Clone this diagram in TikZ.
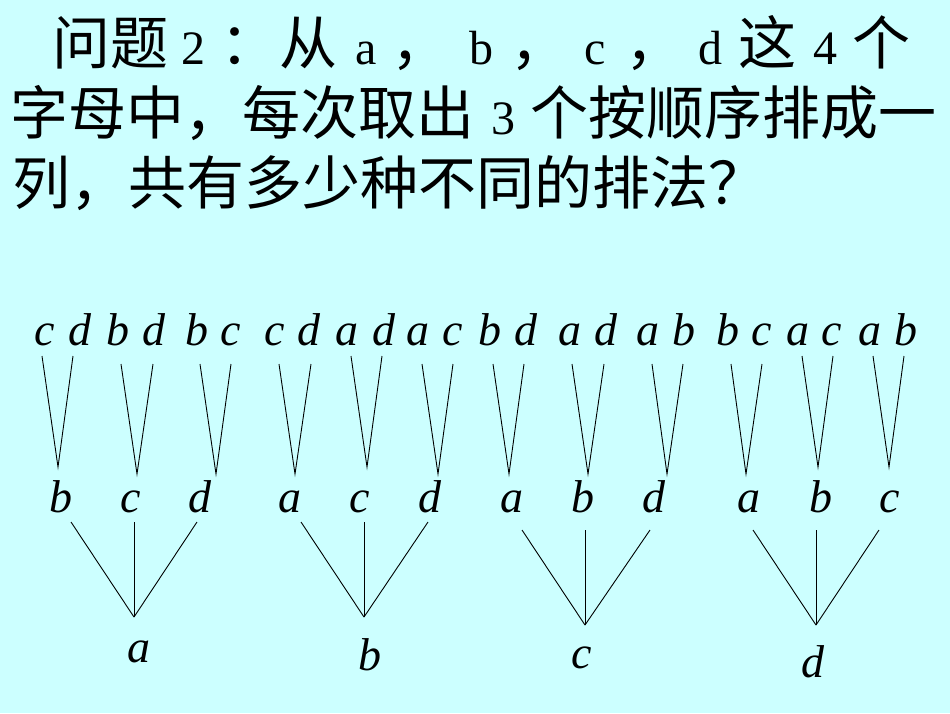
\documentclass[tikz,border=0pt]{standalone}
\usepackage{fontspec}
\setmainfont{Liberation Serif}
\newfontfamily\cjk{Noto Sans CJK SC}
\newfontfamily\lat{Liberation Serif}
\newcommand\ltn[1]{{\fontsize{48pt}{50pt}\selectfont\lat #1}}
\definecolor{bgcyan}{RGB}{204,255,255}
\tikzset{
  titleline/.style={anchor=base west, inner sep=0pt, font=\fontsize{58pt}{60pt}\selectfont\cjk},
  letter/.style={anchor=base, inner sep=0pt, font=\fontsize{46pt}{48pt}\selectfont\itshape},
  edge/.style={draw=black, line width=0.9pt}
}
\begin{document}
\begin{tikzpicture}[x=1pt,y=-1pt]
\fill[bgcyan] (0,0) rectangle (950,713);
\useasboundingbox (0,0) rectangle (950,713);
% title
\node[titleline] (l1) at (52,64) {问题\hspace{13pt}\ltn{2}\hspace{15pt}：\hspace{1pt}从\hspace{18pt}\ltn{a}\hspace{15.4pt}，\hspace{20pt}\ltn{b}\hspace{17pt}，\hspace{16pt}\ltn{c}\hspace{19.4pt}，\hspace{15pt}\ltn{d}\hspace{16pt}这\hspace{17pt}\ltn{4}\hspace{15pt}个};
\node[titleline] (l2) at (10,134) {字母中，每次取出\hspace{17pt}\ltn{3}\hspace{15pt}个按顺序排成一};
\node[titleline] (l3) at (12,204) {列，共有多少种不同的排法？};
% top row
\node[letter] (t1) at (45,345) {c};
\node[letter] (t2) at (80,345) {d};
\node[letter] (t3) at (118,345) {b};
\node[letter] (t4) at (154,345) {d};
\node[letter] (t5) at (197,345) {b};
\node[letter] (t6) at (231,345) {c};
\node[letter] (t7) at (275,345) {c};
\node[letter] (t8) at (309,345) {d};
\node[letter] (t9) at (347,345) {a};
\node[letter] (t10) at (384,345) {d};
\node[letter] (t11) at (418,345) {a};
\node[letter] (t12) at (453,345) {c};
\node[letter] (t13) at (490,345) {b};
\node[letter] (t14) at (526,345) {d};
\node[letter] (t15) at (570,345) {a};
\node[letter] (t16) at (606,345) {d};
\node[letter] (t17) at (648,345) {a};
\node[letter] (t18) at (684,345) {b};
\node[letter] (t19) at (728,345) {b};
\node[letter] (t20) at (762,345) {c};
\node[letter] (t21) at (798,345) {a};
\node[letter] (t22) at (832,345) {c};
\node[letter] (t23) at (870,345) {a};
\node[letter] (t24) at (906,345) {b};
% middle row
\node[letter] (m1) at (61,512) {b};
\node[letter] (m2) at (131,512) {c};
\node[letter] (m3) at (200,512) {d};
\node[letter] (m4) at (290,512) {a};
\node[letter] (m5) at (360,512) {c};
\node[letter] (m6) at (430,512) {d};
\node[letter] (m7) at (512,512) {a};
\node[letter] (m8) at (583,512) {b};
\node[letter] (m9) at (654,512) {d};
\node[letter] (m10) at (749,512) {a};
\node[letter] (m11) at (821,512) {b};
\node[letter] (m12) at (890,512) {c};
% bottom row
\node[letter] (r1) at (139,662) {a};
\node[letter] (r2) at (370,670) {b};
\node[letter] (r3) at (582,668) {c};
\node[letter] (r4) at (813,677) {d};
% V vertices
\coordinate (v1) at (58,467);
\coordinate (v2) at (137,474);
\coordinate (v3) at (216,474);
\coordinate (v4) at (295,474);
\coordinate (v5) at (367,467);
\coordinate (v6) at (438,474);
\coordinate (v7) at (509,474);
\coordinate (v8) at (588,474);
\coordinate (v9) at (667,474);
\coordinate (v10) at (746,474);
\coordinate (v11) at (818,467);
\coordinate (v12) at (889,467);
% fan vertices
\coordinate (f1) at (134,617);
\coordinate (f2) at (364,617);
\coordinate (f3) at (585,625);
\coordinate (f4) at (816,625);
% V shapes
\draw[edge] ([shift={(-3,11)}]t1.base) -- (v1) -- ([shift={(-7,11)}]t2.base);
\draw[edge] ([shift={(3,19)}]t3.base) -- (v2) -- ([shift={(-1,19)}]t4.base);
\draw[edge] ([shift={(3,19)}]t5.base) -- (v3) -- ([shift={(0,19)}]t6.base);
\draw[edge] ([shift={(4,19)}]t7.base) -- (v4) -- ([shift={(2,19)}]t8.base);
\draw[edge] ([shift={(4,11)}]t9.base) -- (v5) -- ([shift={(-2,11)}]t10.base);
\draw[edge] ([shift={(4,19)}]t11.base) -- (v6) -- ([shift={(0,19)}]t12.base);
\draw[edge] ([shift={(3,19)}]t13.base) -- (v7) -- ([shift={(-2,19)}]t14.base);
\draw[edge] ([shift={(2,19)}]t15.base) -- (v8) -- ([shift={(-2,19)}]t16.base);
\draw[edge] ([shift={(4,19)}]t17.base) -- (v9) -- ([shift={(-1,19)}]t18.base);
\draw[edge] ([shift={(3,19)}]t19.base) -- (v10) -- ([shift={(0,19)}]t20.base);
\draw[edge] ([shift={(4,11)}]t21.base) -- (v11) -- ([shift={(1,11)}]t22.base);
\draw[edge] ([shift={(3,11)}]t23.base) -- (v12) -- ([shift={(-2,11)}]t24.base);
% fans
\draw[edge] ([shift={(10,10)}]m1.base) -- (f1);
\draw[edge] ([shift={(3,10)}]m2.base) -- (f1);
\draw[edge] ([shift={(-3,10)}]m3.base) -- (f1);
\draw[edge] ([shift={(11,10)}]m4.base) -- (f2);
\draw[edge] ([shift={(4,10)}]m5.base) -- (f2);
\draw[edge] ([shift={(-2,10)}]m6.base) -- (f2);
\draw[edge] ([shift={(10,18)}]m7.base) -- (f3);
\draw[edge] ([shift={(2,18)}]m8.base) -- (f3);
\draw[edge] ([shift={(-4,18)}]m9.base) -- (f3);
\draw[edge] ([shift={(4,18)}]m10.base) -- (f4);
\draw[edge] ([shift={(-5,18)}]m11.base) -- (f4);
\draw[edge] ([shift={(-11,18)}]m12.base) -- (f4);
\end{tikzpicture}
\end{document}
